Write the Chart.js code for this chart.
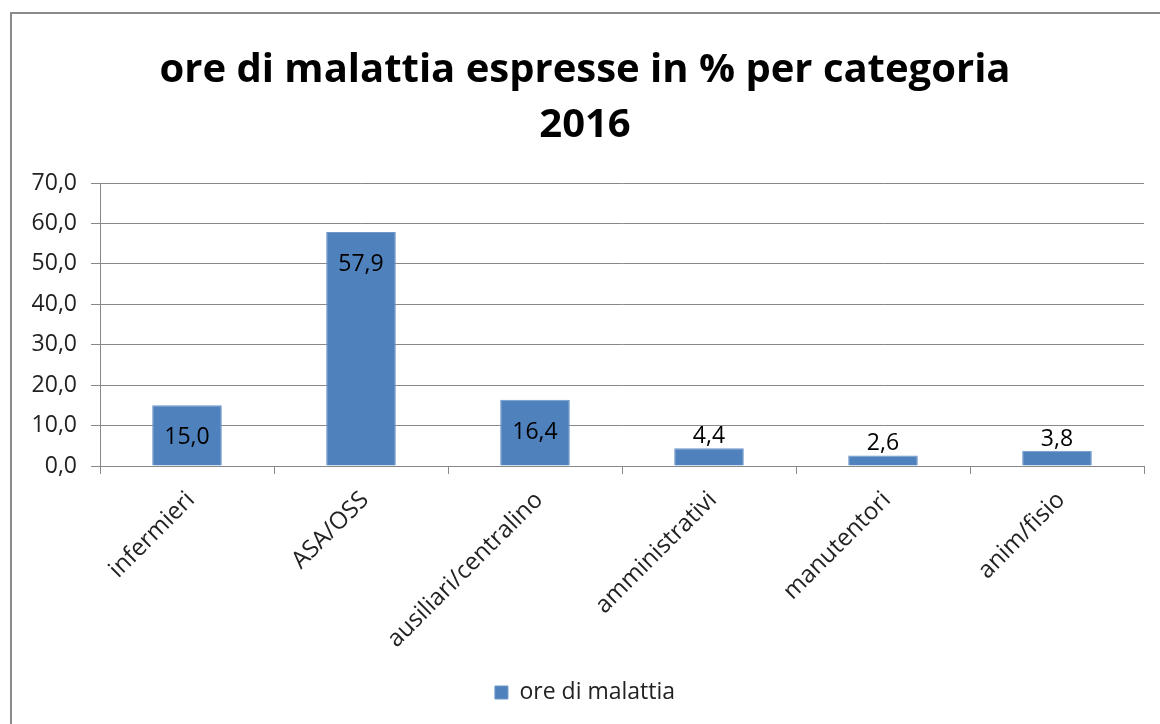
<!DOCTYPE html>
<html>
<head>
<meta charset="utf-8">
<script src="https://cdn.jsdelivr.net/npm/chart.js@4"></script>
<style>
  html, body { margin: 0; padding: 0; background: #fff; overflow: hidden; }
  #cornice { position: absolute; left: 10px; top: 12px; width: 1300px; height: 900px;
             border-top: 2px solid #8a8a8a; border-left: 2px solid #8a8a8a; }
  #box { position: absolute; left: 0; top: 0; width: 1160px; height: 724px; }
</style>
</head>
<body>
<div id="cornice"></div>
<div id="box"><canvas id="grafico"></canvas></div>
<script>
// categorie e valori (%)
const categorie = ["infermieri", "ASA/OSS", "ausiliari/centralino", "amministrativi", "manutentori", "anim/fisio"];
const valori = [15.0, 57.9, 16.4, 4.4, 2.6, 3.8];
const tickY = [0, 10, 20, 30, 40, 50, 60, 70];
const nomeSerie = "ore di malattia";
const titolo = ["ore di malattia espresse in % per categoria", "2016"];

const blu = "#4F81BD";
const font = "'Open Sans', 'Liberation Sans', sans-serif";

function virgola(v) {
    return v.toFixed(1).replace(".", ",");
}

// etichette dei valori sulle barre
const etichette = {
    id: "etichette",
    afterDatasetsDraw(chart) {
        const ctx = chart.ctx;
        const meta = chart.getDatasetMeta(0);
        ctx.save();
        ctx.font = "23px " + font;
        ctx.fillStyle = "#000";
        ctx.textAlign = "center";
        ctx.textBaseline = "alphabetic";
        meta.data.forEach((bar, i) => {
            const alt = bar.base - bar.y;
            const y = alt > 40 ? bar.y + 39 : bar.y - 5;
            ctx.fillText(virgola(valori[i]), bar.x, y);
        });
        ctx.restore();
    }
};

const ctx = document.getElementById("grafico").getContext("2d");

new Chart(ctx, {
    type: "bar",
    data: {
        labels: categorie,
        datasets: [{
            label: nomeSerie,
            data: valori,
            backgroundColor: blu,
            borderColor: "#6f97c9",
            borderWidth: 1,
            categoryPercentage: 0.8,
            barPercentage: 0.5
        }]
    },
    options: {
        responsive: true,
        maintainAspectRatio: false,
        animation: false,
        layout: { padding: { left: 26, right: 16, top: 0, bottom: 10 } },
        plugins: {
            title: {
                display: true,
                text: titolo,
                color: "#000",
                font: { family: font, size: 40, weight: "bold", lineHeight: 1.375 },
                padding: { top: 43, bottom: 30 }
            },
            legend: {
                position: "bottom",
                labels: {
                    color: "#222",
                    font: { family: font, size: 23 },
                    boxWidth: 13,
                    boxHeight: 13,
                    padding: 10
                }
            },
            tooltip: { enabled: false }
        },
        scales: {
            x: {
                grid: { drawOnChartArea: false, drawTicks: true, tickLength: 8, color: "#888" },
                border: { color: "#888" },
                ticks: {
                    color: "#222",
                    font: { family: font, size: 24 },
                    minRotation: 45,
                    maxRotation: 45,
                    padding: 12,
                    labelOffset: 4
                },
                afterFit(s) { s.height = 205; }
            },
            y: {
                min: 0,
                max: 70,
                afterBuildTicks(s) { s.ticks = tickY.map(v => ({ value: v })); },
                grid: { color: "#888", tickLength: 9 },
                border: { color: "#888" },
                ticks: {
                    color: "#222",
                    font: { family: font, size: 23 },
                    padding: 14,
                    callback: v => virgola(v)
                },
                afterFit(s) { s.width = 74; }
            }
        }
    },
    plugins: [etichette]
});
</script>
</body>
</html>
